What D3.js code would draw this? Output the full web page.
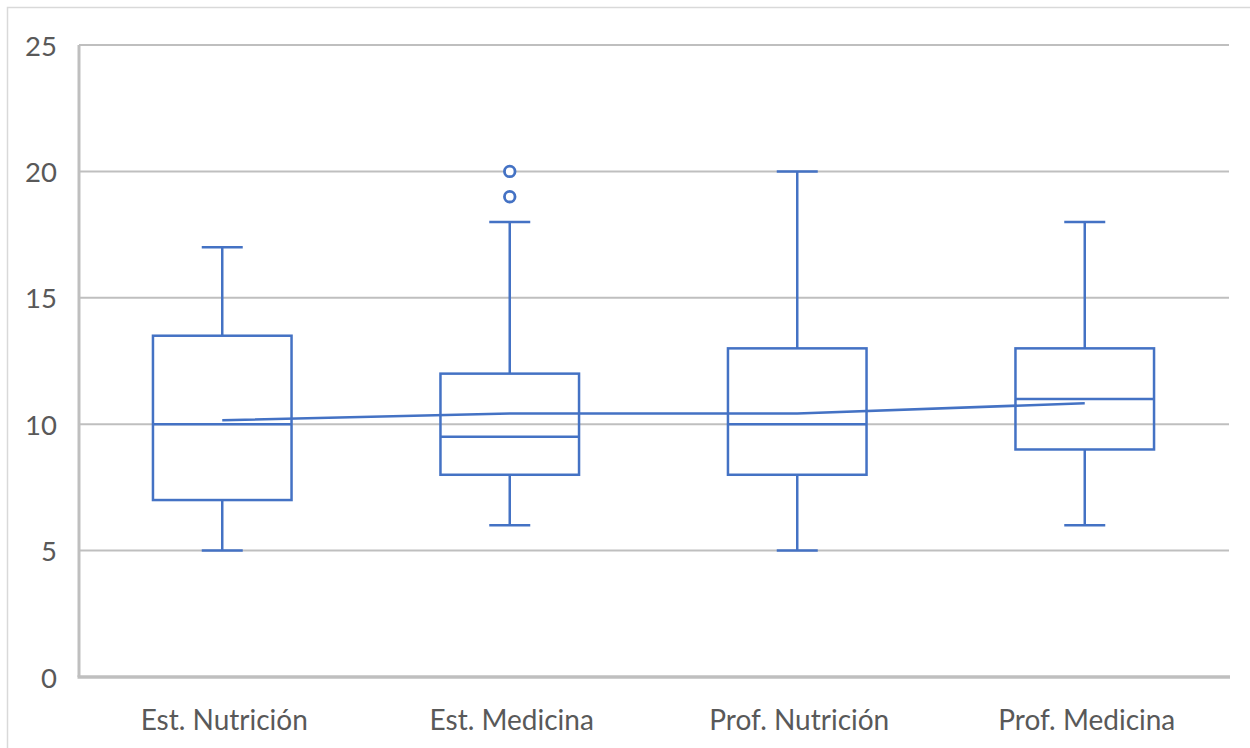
<!DOCTYPE html>
<html><head><meta charset="utf-8">
<script src="https://cdn.jsdelivr.net/npm/d3@7"></script>
<style>body{margin:0;background:#fff;} svg{display:block;}</style>
</head><body>
<script>
const categories = ["Est. Nutrición","Est. Medicina","Prof. Nutrición","Prof. Medicina"];
const mins    = [5, 6, 5, 6];
const q1s     = [7, 8, 8, 9];
const medians = [10, 9.5, 10, 11];
const q3s     = [13.5, 12, 13, 13];
const maxs    = [17, 18, 20, 18];
const means   = [10.16, 10.42, 10.42, 10.83];
const outliers = [[], [19, 20], [], []];
const yTicks  = [0, 5, 10, 15, 20, 25];

const W = 1250, H = 748;
const svg = d3.select("body").append("svg").attr("width", W).attr("height", H);
svg.append("rect").attr("x",7.5).attr("y",7.5).attr("width",W+10).attr("height",H+10)
  .attr("fill","#fff").attr("stroke","#D9D9D9").attr("stroke-width",1.5);

const pLeft = 79, pRight = 1229, pTop = 45, pBottom = 677;
const x = d3.scaleBand().domain(categories).range([pLeft, pRight]).paddingInner(0).paddingOuter(0);
const y = d3.scaleLinear().domain([0, 25]).range([pBottom, pTop]);
const blue = "#4472C4", grid = "#BFBFBF", txt = "#595959";
const font = "Lato, 'Open Sans', sans-serif";
const off = -0.5;

svg.append("g").selectAll("line").data(yTicks.filter(d => d > 0)).join("line")
  .attr("x1", pLeft).attr("x2", pRight).attr("y1", d => y(d)).attr("y2", d => y(d))
  .attr("stroke", grid).attr("stroke-width", 2);
svg.append("line").attr("x1", pLeft).attr("x2", pLeft).attr("y1", pTop).attr("y2", pBottom)
  .attr("stroke", grid).attr("stroke-width", 3);
svg.append("line").attr("x1", pLeft - 1.5).attr("x2", pRight + 1).attr("y1", pBottom).attr("y2", pBottom)
  .attr("stroke", grid).attr("stroke-width", 3.5);

svg.append("g").selectAll("text").data(yTicks).join("text")
  .attr("x", 57).attr("y", d => y(d) + 1).attr("dy", "0.35em").attr("text-anchor", "end")
  .attr("font-family", font).attr("font-size", 27.5).attr("fill", txt).text(d => d);
svg.append("g").selectAll("text").data(categories).join("text")
  .attr("x", d => x(d) + x.bandwidth()/2 + off + 2).attr("y", 720).attr("dy", "0.35em").attr("text-anchor", "middle")
  .attr("font-family", font).attr("font-size", 28).attr("fill", txt).text(d => d);

const bw = x.bandwidth() * 0.482, cw = 41;
const g = svg.append("g").attr("stroke", blue).attr("stroke-width", 2.5).attr("fill", "none");
categories.forEach((c, i) => {
  const cx = x(c) + x.bandwidth()/2 + off;
  g.append("line").attr("x1", cx).attr("x2", cx).attr("y1", y(maxs[i])).attr("y2", y(q3s[i]));
  g.append("line").attr("x1", cx).attr("x2", cx).attr("y1", y(q1s[i])).attr("y2", y(mins[i]));
  g.append("line").attr("x1", cx - cw/2).attr("x2", cx + cw/2).attr("y1", y(maxs[i])).attr("y2", y(maxs[i]));
  g.append("line").attr("x1", cx - cw/2).attr("x2", cx + cw/2).attr("y1", y(mins[i])).attr("y2", y(mins[i]));
  g.append("rect").attr("x", cx - bw/2).attr("y", y(q3s[i])).attr("width", bw).attr("height", y(q1s[i]) - y(q3s[i]));
  g.append("line").attr("x1", cx - bw/2).attr("x2", cx + bw/2).attr("y1", y(medians[i])).attr("y2", y(medians[i]));
  outliers[i].forEach(o => {
    g.append("circle").attr("cx", cx).attr("cy", y(o)).attr("r", 5.3).attr("fill", "#fff").attr("stroke-width", 2.8);
  });
});
const line = d3.line().x((d, i) => x(categories[i]) + x.bandwidth()/2 + off).y(d => y(d));
svg.append("path").datum(means).attr("d", line).attr("fill", "none")
  .attr("stroke", blue).attr("stroke-width", 2.5);
</script>
</body></html>
